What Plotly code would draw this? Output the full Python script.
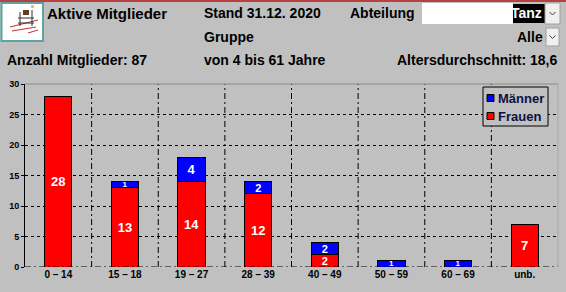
import plotly.graph_objects as go

categories = ["0 – 14", "15 – 18", "19 – 27", "28 – 39", "40 – 49", "50 – 59", "60 – 69", "unb."]
frauen = [28, 13, 14, 12, 2, 0, 0, 7]
maenner = [0, 1, 4, 2, 2, 1, 1, 0]
y_ticks = [0, 5, 10, 15, 20, 25, 30]

W, H = 566, 292
L, R, T, B = 25, 8, 84, 25
PW, PH = W - L - R, H - T - B


def px(x):
    return (x - L) / PW


def py(y):
    return (H - B - y) / PH


FONT = "Liberation Sans"
BG = "#c0c0c0"


def seg_text(vals):
    return ["<b>%d</b>" % v if v else "" for v in vals]


def seg_size(vals):
    return [8 if v == 1 else (11 if v == 2 else 13) for v in vals]


fig = go.Figure()
fig.add_trace(go.Bar(
    x=categories, y=frauen, name="Frauen",
    marker=dict(color="#ff0000", line=dict(color="black", width=1)),
    text=seg_text(frauen),
    textposition="inside", insidetextanchor="middle", textangle=0, constraintext="none",
    textfont=dict(color="white", size=seg_size(frauen), family=FONT),
    width=0.41,
))
fig.add_trace(go.Bar(
    x=categories, y=maenner, name="Männer",
    marker=dict(color="#0000ff", line=dict(color="black", width=1)),
    text=seg_text(maenner),
    textposition="inside", insidetextanchor="middle", textangle=0, constraintext="none",
    textfont=dict(color="white", size=seg_size(maenner), family=FONT),
    width=0.41,
))

shapes = []
annotations = []

# vertical dash-dot separators between categories
for i in range(len(categories) - 1):
    shapes.append(dict(type="line", xref="x", yref="paper", x0=i + 0.5, x1=i + 0.5, y0=0, y1=1,
                       line=dict(color="black", width=1, dash="6px,3px,2px,3px"), layer="below"))
# bottom axis dash-dot line
shapes.append(dict(type="line", xref="paper", yref="y", x0=0, x1=1, y0=0, y1=0,
                   line=dict(color="black", width=1, dash="6px,3px,2px,3px")))
# top and right gray border
shapes.append(dict(type="line", xref="paper", yref="paper", x0=0, x1=1, y0=1, y1=1,
                   line=dict(color="#8a8a8a", width=1)))
shapes.append(dict(type="line", xref="paper", yref="paper", x0=1, x1=1, y0=0, y1=1,
                   line=dict(color="#a8a8a8", width=1)))

# top red line
shapes.append(dict(type="rect", xref="paper", yref="paper", x0=px(0), x1=px(566), y0=py(0), y1=py(2),
                   line=dict(width=0), fillcolor="#b84040"))
# icon box
shapes.append(dict(type="rect", xref="paper", yref="paper", x0=px(1.5), x1=px(43), y0=py(3), y1=py(41),
                   line=dict(color="#5aa4a4", width=2), fillcolor="white"))
for (x0, y0, x1, y1, c) in [(10, 27, 38, 20, "#c03030"), (12, 31, 36, 27, "#c03030"),
                            (18, 18, 34, 18, "#303030"), (18, 23, 34, 23, "#303030"),
                            (20, 12, 20, 26, "#303030"), (32, 10, 32, 26, "#303030"),
                            (28, 33, 38, 30, "#c03030")]:
    shapes.append(dict(type="line", xref="paper", yref="paper", x0=px(x0), x1=px(x1), y0=py(y0), y1=py(y1),
                       line=dict(color=c, width=1)))
shapes.append(dict(type="rect", xref="paper", yref="paper", x0=px(23), x1=px(29), y0=py(10), y1=py(15),
                   line=dict(width=0), fillcolor="#604020"))
shapes.append(dict(type="rect", xref="paper", yref="paper", x0=px(31), x1=px(34), y0=py(5), y1=py(8),
                   line=dict(width=0), fillcolor="#e0d020"))

# Abteilung box
shapes.append(dict(type="rect", xref="paper", yref="paper", x0=px(422), x1=px(513), y0=py(3), y1=py(24),
                   line=dict(width=0), fillcolor="white"))
shapes.append(dict(type="rect", xref="paper", yref="paper", x0=px(513), x1=px(545), y0=py(4), y1=py(23),
                   line=dict(width=0), fillcolor="black"))
for (x0, x1, y0, y1) in [(545, 560, 3, 24), (546, 559, 28, 46)]:
    shapes.append(dict(type="rect", xref="paper", yref="paper", x0=px(x0), x1=px(x1), y0=py(y0), y1=py(y1),
                       line=dict(color="#a0a0a0", width=1), fillcolor="#f0f0f0"))
    cx = (x0 + x1) / 2
    cy = (y0 + y1) / 2
    shapes.append(dict(type="path", xref="paper", yref="paper",
                       path=f"M {px(cx-3)},{py(cy-1.5)} L {px(cx)},{py(cy+1.5)} L {px(cx+3)},{py(cy-1.5)}",
                       line=dict(color="#404040", width=1)))

# legend (manual)
shapes.append(dict(type="rect", xref="paper", yref="paper", x0=px(483), x1=px(548), y0=py(87), y1=py(126),
                   line=dict(color="black", width=1), fillcolor=BG))
for (yc, col) in [(98, "#0000ff"), (116, "#ff0000")]:
    shapes.append(dict(type="rect", xref="paper", yref="paper", x0=px(487), x1=px(494), y0=py(yc - 3.5), y1=py(yc + 3.5),
                       line=dict(color="black", width=1), fillcolor=col))
for (yc, txt) in [(98, "Männer"), (116, "Frauen")]:
    annotations.append(dict(text="<b>" + txt + "</b>", xref="paper", yref="paper", x=px(496), y=py(yc),
                            xanchor="left", yanchor="middle", showarrow=False,
                            font=dict(family=FONT, size=13, color="#101040")))


def label(txt, x, y, anchor="left", size=14, color="black"):
    annotations.append(dict(text="<b>" + txt + "</b>", xref="paper", yref="paper", x=px(x), y=py(y),
                            xanchor=anchor, yanchor="middle", showarrow=False,
                            font=dict(family=FONT, size=size, color=color)))


label("Aktive Mitglieder", 45, 13, size=15)
label("Stand 31.12. 2020", 202, 13)
label("Abteilung", 348, 13)
label("Tanz", 544, 13, anchor="right", color="white")
label("Gruppe", 202, 37)
label("Alle", 545, 37, anchor="right")
label("Anzahl Mitglieder: 87", 5, 60)
label("von 4 bis 61 Jahre", 202, 60)
label("Altersdurchschnitt: 18,6", 559, 60, anchor="right")

fig.update_layout(
    barmode="stack",
    width=W, height=H,
    margin=dict(l=L, r=R, t=T, b=B, pad=0),
    paper_bgcolor=BG, plot_bgcolor=BG,
    showlegend=False,
    shapes=shapes, annotations=annotations,
    font=dict(family=FONT, color="black"),
    xaxis=dict(showgrid=False, showline=False, ticks="", zeroline=False,
               tickfont=dict(size=10, family=FONT, color="black"),
               tickvals=categories, ticktext=["<b>" + c + "</b>" for c in categories]),
    yaxis=dict(range=[0, 30], tickvals=y_ticks, ticktext=["<b>%d</b>" % v for v in y_ticks],
               showgrid=True, gridcolor="black", griddash="dot", gridwidth=1,
               showline=True, linecolor="black", linewidth=1, zeroline=False,
               ticks="outside", ticklen=3, tickcolor="black",
               tickfont=dict(size=9, family=FONT, color="black")),
)

fig.write_html("out.html")
